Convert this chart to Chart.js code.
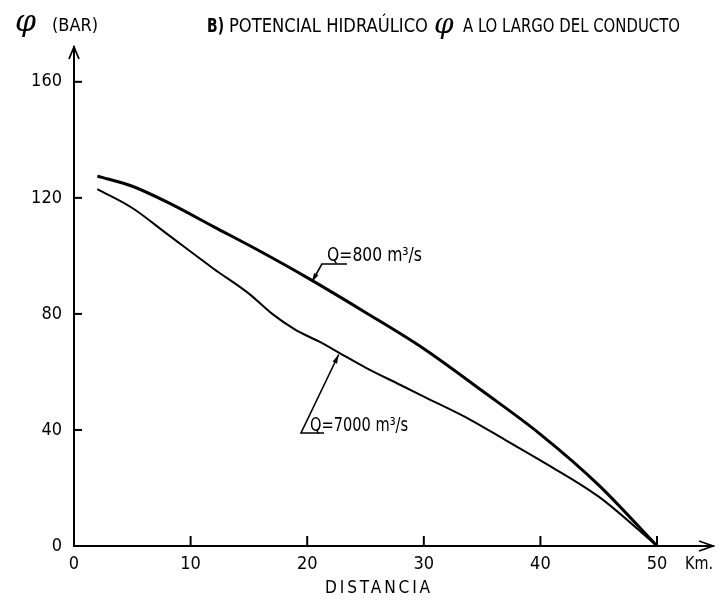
<!DOCTYPE html>
<html>
<head>
<meta charset="utf-8">
<script src="https://cdn.jsdelivr.net/npm/chart.js@4.4.1/dist/chart.umd.min.js"></script>
<style>
  html, body { margin: 0; padding: 0; background: #fff; }
  #wrap { width: 721px; height: 601px; }
</style>
</head>
<body>
<div id="wrap"><canvas id="chart" width="721" height="601"></canvas></div>
<script>
// Potencial hidraulico (bar) a lo largo del conducto (km)
const kmQ800 = [2, 5, 8, 12, 16, 20, 25, 30, 35, 40, 45, 50];
const phiQ800 = [127.5, 124, 118.5, 110, 101.5, 92.5, 80.5, 68, 53.5, 38.5, 21, 0];

const kmQ7000 = [2, 5, 8, 12, 15, 17, 19, 21, 23, 25, 28, 30, 34, 37, 40, 45, 50];
const phiQ7000 = [123, 116.5, 107.5, 95.5, 87, 80, 74.5, 70.5, 66, 61.5, 55.5, 51.5, 43.5, 36.5, 29.5, 17, 0];

const xTicks = [0, 10, 20, 30, 40, 50];
const yTicks = [0, 40, 80, 120, 160];

const labelQ800 = 'Q=800 m³/s';
const labelQ7000 = 'Q=7000 m³/s';

const NARROW = '"Liberation Sans Narrow", "DejaVu Sans Condensed", "Liberation Sans", sans-serif';

function toPoints(xs, ys) {
    return xs.map((x, i) => ({ x: x, y: ys[i] }));
}

// draw text squeezed horizontally to a given width (stencil lettering is narrow)
function fitText(ctx, str, x, y, width) {
    const w = ctx.measureText(str).width;
    const k = Math.min(1, width / w);
    ctx.save();
    ctx.translate(x, y);
    ctx.scale(k, 1);
    ctx.fillText(str, 0, 0);
    ctx.restore();
}

// small filled arrow head at (x, y) pointing along angle a
function arrowHead(ctx, x, y, a, len, half) {
    ctx.beginPath();
    ctx.moveTo(x, y);
    ctx.lineTo(x - len * Math.cos(a) + half * Math.sin(a), y - len * Math.sin(a) - half * Math.cos(a));
    ctx.lineTo(x - len * Math.cos(a) - half * Math.sin(a), y - len * Math.sin(a) + half * Math.cos(a));
    ctx.closePath();
    ctx.fill();
}

// Draws the things Chart.js has no option for: inside ticks, axis arrows, texts, leaders
const drawingPlugin = {
    id: 'drawing',
    afterDraw(chart) {
        const ctx = chart.ctx;
        const xs = chart.scales.x;
        const ys = chart.scales.y;
        const x0 = xs.getPixelForValue(0);
        const y0 = ys.getPixelForValue(0);
        const area = chart.chartArea;

        ctx.save();
        ctx.strokeStyle = '#000';
        ctx.fillStyle = '#000';
        ctx.lineWidth = 2;

        // ticks pointing into the plot
        yTicks.forEach(v => {
            if (v === 0) return;
            const py = ys.getPixelForValue(v);
            ctx.beginPath(); ctx.moveTo(x0, py); ctx.lineTo(x0 + 8, py); ctx.stroke();
        });
        xTicks.forEach(v => {
            if (v === 0) return;
            const px = xs.getPixelForValue(v);
            ctx.beginPath(); ctx.moveTo(px, y0); ctx.lineTo(px, y0 - 10); ctx.stroke();
        });

        // axis arrows (open V)
        ctx.lineWidth = 1.8;
        ctx.beginPath();
        ctx.moveTo(x0 - 5, area.top + 12); ctx.lineTo(x0, area.top); ctx.lineTo(x0 + 5, area.top + 12);
        ctx.stroke();
        ctx.beginPath();
        ctx.moveTo(area.right - 14, y0 - 5); ctx.lineTo(area.right, y0); ctx.lineTo(area.right - 14, y0 + 5);
        ctx.stroke();

        // texts
        ctx.textBaseline = 'alphabetic';
        ctx.textAlign = 'left';
        ctx.font = 'italic 30px "DejaVu Serif", serif';
        ctx.fillText('φ', 15, 31);
        ctx.font = '18px ' + NARROW;
        fitText(ctx, '(BAR)', 52, 31, 48);

        ctx.font = 'bold 19px ' + NARROW;
        fitText(ctx, 'B)', 207, 32, 17);
        ctx.font = '19px ' + NARROW;
        fitText(ctx, 'POTENCIAL HIDRAÚLICO', 229, 32, 199);
        ctx.font = 'italic 28px "DejaVu Serif", serif';
        ctx.fillText('φ', 434, 33);
        ctx.font = '19px ' + NARROW;
        fitText(ctx, 'A LO LARGO DEL CONDUCTO', 463, 32, 217);

        ctx.font = '18px ' + NARROW;
        fitText(ctx, 'Km.', 685, 569, 28);
        ctx.letterSpacing = '3px';
        fitText(ctx, 'DISTANCIA', 325, 593, 108);
        ctx.letterSpacing = '0px';

        // series labels with leader lines
        ctx.font = '19px ' + NARROW;
        ctx.lineWidth = 1.6;

        // Q = 800: leader touches upper curve
        const t1x = xs.getPixelForValue(20.4), t1y = ys.getPixelForValue(91);
        ctx.beginPath(); ctx.moveTo(t1x, t1y); ctx.lineTo(t1x + 10, t1y - 18); ctx.lineTo(347, t1y - 18); ctx.stroke();
        arrowHead(ctx, t1x, t1y, Math.atan2(18, -10), 9, 2.5);
        fitText(ctx, labelQ800, 327, t1y - 21, 95);

        // Q = 7000: leader touches lower curve
        const t2x = xs.getPixelForValue(22.7), t2y = ys.getPixelForValue(66);
        ctx.beginPath(); ctx.moveTo(t2x, t2y); ctx.lineTo(301, 433); ctx.lineTo(324, 433); ctx.stroke();
        arrowHead(ctx, t2x, t2y, Math.atan2(t2y - 433, t2x - 301), 9, 2.5);
        fitText(ctx, labelQ7000, 310, 431, 98);

        ctx.restore();
    }
};

new Chart(document.getElementById('chart'), {
    type: 'scatter',
    data: {
        datasets: [
            {
                label: labelQ800,
                data: toPoints(kmQ800, phiQ800),
                showLine: true,
                borderColor: '#000',
                borderWidth: 3,
                pointRadius: 0,
                cubicInterpolationMode: 'monotone'
            },
            {
                label: labelQ7000,
                data: toPoints(kmQ7000, phiQ7000),
                showLine: true,
                borderColor: '#000',
                borderWidth: 2,
                pointRadius: 0,
                cubicInterpolationMode: 'monotone'
            }
        ]
    },
    options: {
        responsive: false,
        animation: false,
        layout: { padding: { top: 47, right: 8, left: 0, bottom: 0 } },
        plugins: {
            legend: { display: false },
            tooltip: { enabled: false },
            title: { display: false }
        },
        scales: {
            x: {
                type: 'linear',
                min: 0,
                max: 54.8,
                afterBuildTicks: s => { s.ticks = xTicks.map(v => ({ value: v })); },
                afterFit: s => { s.height = 55; },
                grid: { display: false, drawTicks: false },
                border: { display: true, color: '#000', width: 2 },
                ticks: {
                    color: '#000',
                    padding: 8,
                    maxRotation: 0,
                    font: { family: NARROW, size: 18 }
                }
            },
            y: {
                type: 'linear',
                min: 0,
                max: 172,
                afterBuildTicks: s => { s.ticks = yTicks.map(v => ({ value: v })); },
                afterFit: s => { s.width = 74; },
                grid: { display: false, drawTicks: false },
                border: { display: true, color: '#000', width: 2 },
                ticks: {
                    color: '#000',
                    padding: 12,
                    font: { family: NARROW, size: 18 }
                }
            }
        }
    },
    plugins: [drawingPlugin]
});
</script>
</body>
</html>
